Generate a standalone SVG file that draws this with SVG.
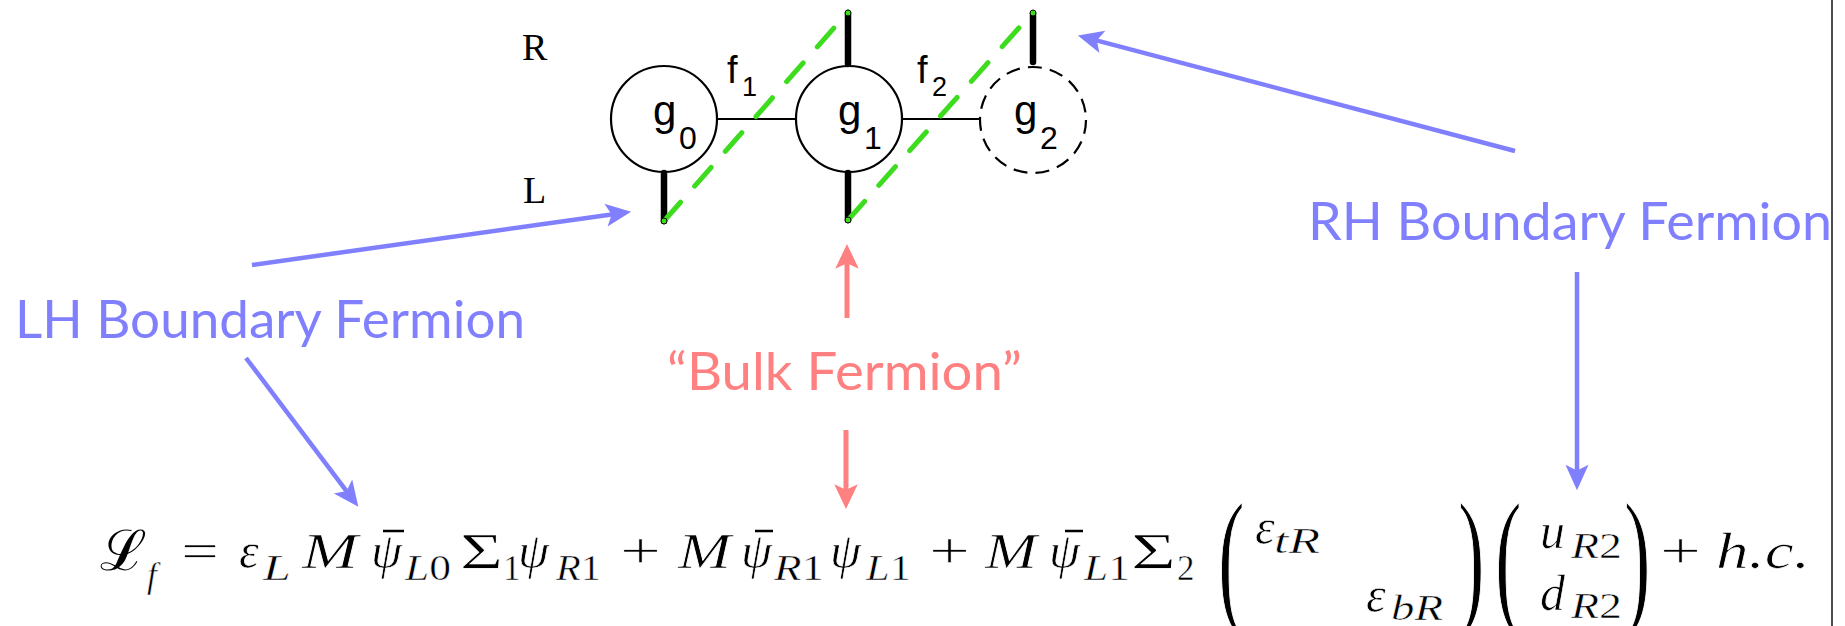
<svg xmlns="http://www.w3.org/2000/svg" width="1845" height="626" viewBox="0 0 1845 626">
<defs>
<style>
.node{fill:none;stroke:#000;stroke-width:2.2}
.dash{stroke-dasharray:14 8.2}
.link{stroke:#000;stroke-width:2.2}
.stub{stroke:#000;stroke-width:6.5;stroke-linecap:round}
.bulk{stroke:#3ddc1e;stroke-width:5;stroke-dasharray:25 21.4;stroke-linecap:round;fill:none}
.dot{fill:#3ddc1e;stroke:#000;stroke-width:1}
.sans{font-family:"Liberation Sans",Arial,sans-serif;fill:#000}
.serif{font-family:"Liberation Serif","Times New Roman",serif;fill:#000}
.gill{font-family:Lato,"Open Sans",sans-serif;font-size:53px}
.blue{fill:#8080ff}
.red{fill:#ff8080}
.bl{stroke:#8080ff;stroke-width:4.5;fill:none}
.rl{stroke:#ff8080;stroke-width:5;fill:none}
.m{font-family:"Liberation Serif","Times New Roman",serif;font-size:50px;fill:#000;stroke:#fff;stroke-width:0.7px}
.i{font-style:italic}
.s{font-size:35px;stroke-width:0.5px}
.par{font-family:"Liberation Serif","Times New Roman",serif;font-size:80px;fill:#000;stroke:#fff;stroke-width:0.8px}
</style>
<marker id="ab" markerUnits="userSpaceOnUse" markerWidth="30" markerHeight="30" viewBox="-10 -12 26 24" refX="0" refY="0" orient="auto">
<path d="M-8,-10 L14,0 L-8,10 L-3,0 Z" fill="#8080ff"/>
</marker>
<marker id="ar" markerUnits="userSpaceOnUse" markerWidth="30" markerHeight="30" viewBox="-12 -13 28 26" refX="0" refY="0" orient="auto">
<path d="M-9,-11 L14,0 L-9,11 L-4,0 Z" fill="#ff8080"/>
</marker>
</defs>
<rect width="1845" height="626" fill="#fff"/>
<line x1="1832" y1="0" x2="1832" y2="626" stroke="#000" stroke-width="1.4"/>

<g id="connectors">
<line class="link" x1="718" y1="119" x2="796" y2="119"/>
<line class="link" x1="902" y1="119" x2="980" y2="119"/>
<line class="stub" x1="664" y1="173" x2="664" y2="221"/>
<line class="stub" x1="848" y1="14" x2="848" y2="64"/>
<line class="stub" x1="848" y1="173" x2="848" y2="220"/>
<line class="stub" x1="1033" y1="14" x2="1033" y2="62"/>
<path class="bulk" d="M664,221 L848,12"/>
<path class="bulk" d="M848,220 L1033,12"/>
<circle class="dot" cx="664" cy="221" r="3"/>
<circle class="dot" cx="848" cy="13" r="3"/>
<circle class="dot" cx="848" cy="220" r="3"/>
<circle class="dot" cx="1033" cy="13" r="3"/>
<line class="bl" x1="252" y1="265" x2="615.1" y2="213.9" marker-end="url(#ab)"/>
<line class="bl" x1="246" y1="358" x2="348.6" y2="493.8" marker-end="url(#ab)"/>
<line class="bl" x1="1515" y1="151" x2="1093.5" y2="39.6" marker-end="url(#ab)"/>
<line class="bl" x1="1577" y1="272" x2="1577" y2="474" marker-end="url(#ab)"/>
<line class="rl" x1="847" y1="318" x2="847" y2="259" marker-end="url(#ar)"/>
<line class="rl" x1="846" y1="430" x2="846" y2="494" marker-end="url(#ar)"/>
</g>

<g id="node-g0">
<circle class="node" cx="664" cy="119" r="53"/>
<text class="sans" x="653" y="125" font-size="42">g</text>
<text class="sans" x="679" y="149" font-size="32">0</text>
</g>
<g id="node-g1">
<circle class="node" cx="849" cy="119" r="53"/>
<text class="sans" x="838" y="125" font-size="42">g</text>
<text class="sans" x="864" y="149" font-size="32">1</text>
</g>
<g id="node-g2">
<circle class="node dash" cx="1033" cy="120" r="53"/>
<text class="sans" x="1014" y="125" font-size="42">g</text>
<text class="sans" x="1040" y="149" font-size="32">2</text>
</g>
<g id="label-f1">
<text class="sans" x="727" y="83" font-size="38">f</text>
<text class="sans" x="742" y="96" font-size="27">1</text>
</g>
<g id="label-f2">
<text class="sans" x="917" y="83" font-size="38">f</text>
<text class="sans" x="932" y="96" font-size="27">2</text>
</g>
<g id="label-R"><text class="serif" x="522" y="60" font-size="38">R</text></g>
<g id="label-L"><text class="serif" x="523" y="203" font-size="38">L</text></g>

<g id="label-LH"><text class="gill blue" x="15" y="338" textLength="510" lengthAdjust="spacingAndGlyphs">LH Boundary Fermion</text></g>
<g id="label-RH"><text class="gill blue" x="1308" y="240" textLength="524" lengthAdjust="spacingAndGlyphs">RH Boundary Fermion</text></g>
<g id="label-bulk"><text class="gill red" x="667" y="390" textLength="355" lengthAdjust="spacingAndGlyphs">“Bulk Fermion”</text></g>

<g id="equation">
<text x="100" y="570" font-family="DejaVu Serif,serif" font-size="56" fill="#000">ℒ</text>
<text class="m i s" x="147" y="587">f</text>
<text class="m" x="181" y="568" textLength="38" lengthAdjust="spacingAndGlyphs">=</text>
<text class="m i" x="239" y="568">ε</text>
<text class="m i s" x="263" y="580" textLength="28" lengthAdjust="spacingAndGlyphs">L</text>
<text class="m i" x="302" y="568" textLength="56" lengthAdjust="spacingAndGlyphs">M</text>
<text class="m i" x="371" y="568">ψ</text>
<line x1="383" y1="531" x2="404" y2="531" stroke="#000" stroke-width="2.5"/>
<text class="m s" x="405" y="580" textLength="46" lengthAdjust="spacingAndGlyphs"><tspan font-style="italic">L</tspan>0</text>
<text class="m" x="460" y="568" textLength="43" lengthAdjust="spacingAndGlyphs">Σ</text>
<text class="m s" x="503" y="580">1</text>
<text class="m i" x="518" y="568">ψ</text>
<text class="m s" x="556" y="580" textLength="45" lengthAdjust="spacingAndGlyphs"><tspan font-style="italic">R</tspan>1</text>
<text class="m" x="620" y="568" textLength="41" lengthAdjust="spacingAndGlyphs">+</text>
<text class="m i" x="678" y="568" textLength="53" lengthAdjust="spacingAndGlyphs">M</text>
<text class="m i" x="741" y="568">ψ</text>
<line x1="755" y1="531" x2="773" y2="531" stroke="#000" stroke-width="2.5"/>
<text class="m s" x="774" y="580" textLength="50" lengthAdjust="spacingAndGlyphs"><tspan font-style="italic">R</tspan>1</text>
<text class="m i" x="830" y="568">ψ</text>
<text class="m s" x="866" y="580" textLength="45" lengthAdjust="spacingAndGlyphs"><tspan font-style="italic">L</tspan>1</text>
<text class="m" x="929" y="568" textLength="41" lengthAdjust="spacingAndGlyphs">+</text>
<text class="m i" x="985" y="568" textLength="52" lengthAdjust="spacingAndGlyphs">M</text>
<text class="m i" x="1049" y="568">ψ</text>
<line x1="1065" y1="531" x2="1083" y2="531" stroke="#000" stroke-width="2.5"/>
<text class="m s" x="1084" y="580" textLength="46" lengthAdjust="spacingAndGlyphs"><tspan font-style="italic">L</tspan>1</text>
<text class="m" x="1131" y="568" textLength="45" lengthAdjust="spacingAndGlyphs">Σ</text>
<text class="m s" x="1177" y="580">2</text>
<text class="par" transform="translate(1218,608) scale(1,1.9)">(</text>
<text class="m i" x="1255" y="544">ε</text>
<text class="m i s" x="1274" y="553" textLength="46" lengthAdjust="spacingAndGlyphs">tR</text>
<text class="m i" x="1366" y="612">ε</text>
<text class="m i s" x="1391" y="620" textLength="52" lengthAdjust="spacingAndGlyphs">bR</text>
<text class="par" transform="translate(1458,608) scale(1,1.9)">)</text>
<text class="par" transform="translate(1495,608) scale(1,1.9)">(</text>
<text class="m i" x="1540" y="548">u</text>
<text class="m s" x="1571" y="558" textLength="51" lengthAdjust="spacingAndGlyphs"><tspan font-style="italic">R</tspan>2</text>
<text class="m i" x="1540" y="610">d</text>
<text class="m s" x="1571" y="618" textLength="51" lengthAdjust="spacingAndGlyphs"><tspan font-style="italic">R</tspan>2</text>
<text class="par" transform="translate(1624,608) scale(1,1.9)">)</text>
<text class="m" x="1660" y="568" textLength="41" lengthAdjust="spacingAndGlyphs">+</text>
<text class="m i" x="1716" y="568" textLength="94" lengthAdjust="spacingAndGlyphs">h.c.</text>
</g>
</svg>
